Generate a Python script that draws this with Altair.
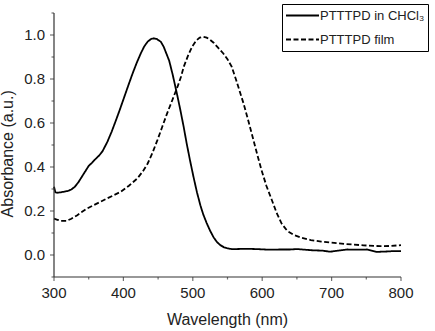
import altair as alt
import pandas as pd

# UV-vis absorption of PTTTPD: chloroform solution vs. thin film
series_names = ["PTTTPD in CHCl\u2083", "PTTTPD film"]

sol_nm = [300, 302, 305, 310, 315, 320, 325, 330, 335, 340, 345, 350, 355, 360,
          365, 370, 377, 383, 389, 395, 401, 407, 413, 419, 425, 430, 435, 440,
          444, 448, 454, 458, 462, 466, 471, 477, 482, 487, 491, 496, 501, 506,
          511, 515, 520, 525, 530, 535, 540, 545, 550, 556, 563, 575, 592, 610,
          625, 640, 650, 662, 674, 686, 698, 710, 722, 736, 751, 765, 780, 790, 800]
sol_abs = [0.31, 0.285, 0.283, 0.285, 0.288, 0.291, 0.298, 0.31, 0.33, 0.355, 0.38,
           0.405, 0.42, 0.437, 0.452, 0.472, 0.515, 0.56, 0.61, 0.662, 0.716,
           0.77, 0.823, 0.872, 0.916, 0.948, 0.970, 0.982, 0.985, 0.982, 0.969,
           0.947, 0.915, 0.883, 0.82, 0.735, 0.66, 0.58, 0.51, 0.43, 0.355, 0.285,
           0.225, 0.185, 0.145, 0.11, 0.08, 0.058, 0.044, 0.035, 0.03, 0.027,
           0.027, 0.028, 0.027, 0.024, 0.025, 0.025, 0.027, 0.024, 0.021, 0.02,
           0.015, 0.02, 0.025, 0.024, 0.025, 0.014, 0.016, 0.018, 0.018]

film_nm = [300, 305, 310, 318, 325, 333, 340, 347, 356, 366, 375, 385, 396, 408,
           420, 428, 435, 442, 449, 456, 463, 470, 478, 483, 487, 493, 499, 505,
           510, 515, 520, 525, 530, 537, 544, 550, 556, 562, 568, 573, 580, 587,
           593, 599, 606, 614, 621, 628, 636, 645, 657, 670, 685, 700, 720, 746,
           770, 785, 800]
film_abs = [0.165, 0.16, 0.155, 0.155, 0.165, 0.18, 0.195, 0.21, 0.225, 0.24,
            0.255, 0.27, 0.287, 0.315, 0.348, 0.38, 0.416, 0.465, 0.522, 0.583,
            0.644, 0.7, 0.765, 0.81, 0.856, 0.905, 0.947, 0.975, 0.988, 0.992,
            0.988, 0.978, 0.965, 0.94, 0.916, 0.89, 0.856, 0.80, 0.74, 0.69,
            0.61, 0.527, 0.455, 0.386, 0.315, 0.249, 0.19, 0.143, 0.11, 0.092,
            0.078, 0.068, 0.061, 0.056, 0.05, 0.044, 0.04, 0.041, 0.045]

x_range = [300, 800]
y_range = [-0.1, 1.1]
x_major = [300, 400, 500, 600, 700, 800]
x_minor = [350, 450, 550, 650, 750]
y_major = [0.0, 0.2, 0.4, 0.6, 0.8, 1.0]
y_minor = [-0.1, 0.1, 0.3, 0.5, 0.7, 0.9, 1.1]
x_title = "Wavelength (nm)"
y_title = "Absorbance (a.u.)"

df = pd.concat([
    pd.DataFrame({"wavelength": sol_nm, "absorbance": sol_abs, "sample": series_names[0], "order": range(len(sol_nm))}),
    pd.DataFrame({"wavelength": film_nm, "absorbance": film_abs, "sample": series_names[1], "order": range(len(film_nm))}),
])

font = "Liberation Sans"
text_color = "#222222"
frame_color = "#333333"

x_scale = alt.Scale(domain=x_range, nice=False, zero=False)
y_scale = alt.Scale(domain=y_range, nice=False, zero=False)

curves = alt.Chart(df).mark_line(color="black", strokeWidth=1.8).encode(
    x=alt.X("wavelength:Q", scale=x_scale, axis=None),
    y=alt.Y("absorbance:Q", scale=y_scale, axis=None),
    strokeDash=alt.StrokeDash("sample:N",
                              scale=alt.Scale(domain=series_names, range=[[1, 0], [5, 2.5]]),
                              legend=alt.Legend(title=None, orient="none", legendX=228, legendY=-9,
                                                symbolType="stroke", symbolSize=1089,
                                                symbolStrokeColor="black", symbolStrokeWidth=2,
                                                strokeColor="black", fillColor="white",
                                                padding=3, clipHeight=17, rowPadding=7,
                                                labelOffset=0, labelFontSize=13, labelFont=font,
                                                labelColor=text_color, labelLimit=300)),
    detail="sample:N",
    order="order:Q",
)

# axis lines along the left and bottom edges of the plot
left_line = alt.Chart().mark_rule(color=frame_color, strokeWidth=1.2).encode(
    x=alt.X(datum=x_range[0], scale=x_scale, axis=None),
    y=alt.Y(datum=y_range[0], scale=y_scale, axis=None),
    y2=alt.Y2(datum=y_range[1]),
)
bottom_line = alt.Chart().mark_rule(color=frame_color, strokeWidth=1.2).encode(
    x=alt.X(datum=x_range[0], scale=x_scale, axis=None),
    x2=alt.X2(datum=x_range[1]),
    y=alt.Y(datum=y_range[0], scale=y_scale, axis=None),
)


def x_ticks(values, length):
    return alt.Chart(pd.DataFrame({"v": values})).mark_tick(
        color=frame_color, thickness=1.2, size=length, orient="vertical", yOffset=length / 2
    ).encode(
        x=alt.X("v:Q", scale=x_scale, axis=None),
        y=alt.Y(datum=y_range[0], scale=y_scale, axis=None),
    )


def y_ticks(values, length):
    return alt.Chart(pd.DataFrame({"v": values})).mark_tick(
        color=frame_color, thickness=1.2, size=length, orient="horizontal", xOffset=-length / 2
    ).encode(
        x=alt.X(datum=x_range[0], scale=x_scale, axis=None),
        y=alt.Y("v:Q", scale=y_scale, axis=None),
    )


# tick labels and axis titles
x_labels = alt.Chart(pd.DataFrame({"v": x_major})).mark_text(
    font=font, fontSize=15, color=text_color, baseline="middle", align="center", dy=16
).encode(
    x=alt.X("v:Q", scale=x_scale, axis=None),
    y=alt.Y(datum=y_range[0], scale=y_scale, axis=None),
    text=alt.Text("v:Q", format="d"),
)
y_labels = alt.Chart(pd.DataFrame({"v": y_major})).mark_text(
    font=font, fontSize=15, color=text_color, baseline="middle", align="right", dx=-9
).encode(
    x=alt.X(datum=x_range[0], scale=x_scale, axis=None),
    y=alt.Y("v:Q", scale=y_scale, axis=None),
    text=alt.Text("v:Q", format=".1f"),
)
x_title_mark = alt.Chart().mark_text(
    text=x_title, font=font, fontSize=16, color=text_color, baseline="middle", align="center", dy=43
).encode(
    x=alt.X(datum=(x_range[0] + x_range[1]) / 2, scale=x_scale, axis=None),
    y=alt.Y(datum=y_range[0], scale=y_scale, axis=None),
)
y_title_mark = alt.Chart().mark_text(
    text=y_title, font=font, fontSize=16, color=text_color, baseline="middle", align="center", angle=270
).encode(
    x=alt.value(-46),
    y=alt.Y(datum=0.46, scale=y_scale, axis=None),
)

chart = alt.layer(
    curves, left_line, bottom_line,
    x_ticks(x_major, 4), x_ticks(x_minor, 2.5),
    y_ticks(y_major, 4), y_ticks(y_minor, 2.5),
    x_labels, y_labels, x_title_mark, y_title_mark,
).properties(
    width=347,
    height=264,
    autosize=alt.AutoSizeParams(type="none"),
    padding={"left": 54, "top": 13, "right": 34, "bottom": 54},
).configure_view(
    stroke=None
)

chart.save("out.html", embed_options={"renderer": "svg", "actions": False})
